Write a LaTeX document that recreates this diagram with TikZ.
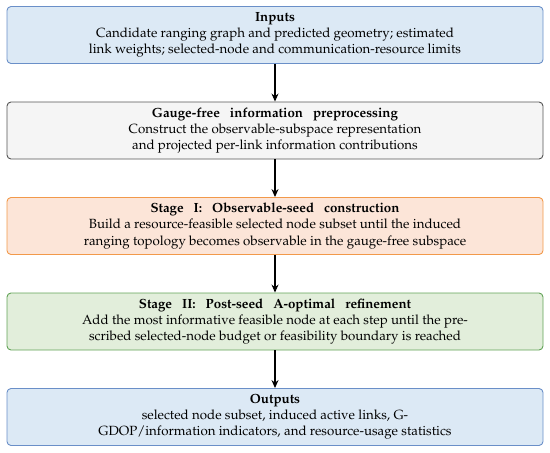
\documentclass[tikz,border=0pt]{standalone}
\usepackage[T1]{fontenc}
\usepackage{mathpazo}
\usepackage{tikz}
\usetikzlibrary{arrows.meta}
\usepackage{xcolor}

\definecolor{inblue}{HTML}{DCE9F5}
\definecolor{inblueline}{HTML}{6A8FC8}
\definecolor{prepgray}{HTML}{F5F5F5}
\definecolor{prepgrayline}{HTML}{555555}
\definecolor{seedorange}{HTML}{FCE5D8}
\definecolor{seedorangeline}{HTML}{F2994A}
\definecolor{refgreen}{HTML}{E2EEDB}
\definecolor{refgreenline}{HTML}{62A357}

\newcommand{\wsp}{\hspace{0.75em}}

\begin{document}
\begin{tikzpicture}[x=1pt, y=-1pt,
    stagebox/.style={draw, rounded corners=4pt, line width=0.9pt,
        minimum width=536pt, minimum height=57pt, inner sep=0pt,
        align=center, font=\fontsize{13.3}{16.2}\selectfont},
    flowarrow/.style={-{Stealth[length=8pt, width=7pt]}, line width=1.1pt, black}]
        % Bounding Box
        \useasboundingbox (0,0) rectangle (550,453);

        % Draw Stages
        \node[stagebox, draw=inblueline, fill=inblue] (inputs) at (275,35)
            {\textbf{Inputs}\\
             Candidate ranging graph and predicted geometry; estimated\\
             link weights; selected-node and communication-resource limits};
        \node[stagebox, draw=prepgrayline, fill=prepgray] (prep) at (275,130.5)
            {\textbf{Gauge-free\wsp information\wsp preprocessing}\\
             Construct the observable-subspace representation\\
             and projected per-link information contributions};
        \node[stagebox, draw=seedorangeline, fill=seedorange] (seed) at (275,226)
            {\textbf{Stage\wsp I:\wsp Observable-seed\wsp construction}\\
             Build a resource-feasible selected node subset until the induced\\
             ranging topology becomes observable in the gauge-free subspace};
        \node[stagebox, draw=refgreenline, fill=refgreen] (refine) at (275,321.5)
            {\textbf{Stage\wsp II:\wsp Post-seed\wsp A-optimal\wsp refinement}\\
             Add the most informative feasible node at each step until the pre-\\
             scribed selected-node budget or feasibility boundary is reached};
        \node[stagebox, draw=inblueline, fill=inblue] (outputs) at (275,417)
            {\textbf{Outputs}\\
             selected node subset, induced active links, G-\\
             GDOP/information indicators, and resource-usage statistics};

        % Flow Arrows
        \draw[flowarrow] (inputs) -- (prep);
        \draw[flowarrow] (prep) -- (seed);
        \draw[flowarrow] (seed) -- (refine);
        \draw[flowarrow] (refine) -- (outputs);
\end{tikzpicture}
\end{document}
